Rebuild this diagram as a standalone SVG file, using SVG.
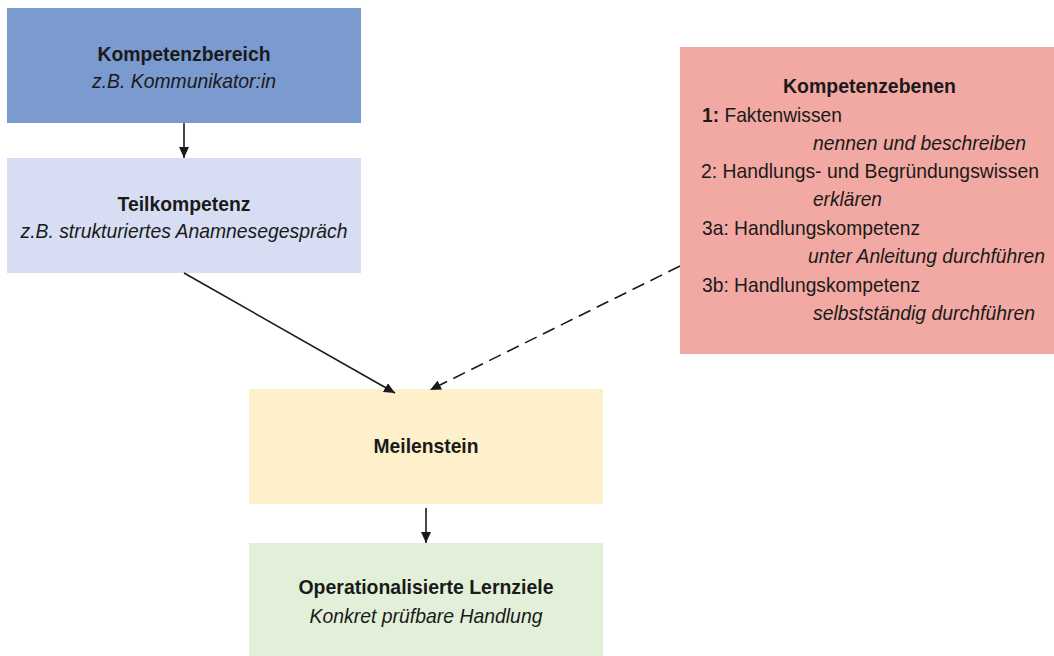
<svg xmlns="http://www.w3.org/2000/svg" width="1054" height="656" viewBox="0 0 1054 656">
<style>
text{font-family:"Liberation Sans",Arial,sans-serif;fill:#1a1a1a;font-size:21px}
.b{font-weight:bold}
.i{font-style:italic}
.c{text-anchor:middle}
.ln{stroke:#1a1a1a;stroke-width:1.6;fill:none}
</style>
<defs>
<marker id="ah" markerUnits="userSpaceOnUse" markerWidth="12" markerHeight="10" refX="11" refY="5" orient="auto">
<path d="M0,0 L11,5 L0,10 Z" fill="#1a1a1a"/>
</marker>
</defs>
<rect width="1054" height="656" fill="#ffffff"/>
<g id="kompetenzbereich">
<rect x="7" y="8" width="354" height="115" fill="#7b9bd0"/>
<text x="184" y="61" class="b c" textLength="173" lengthAdjust="spacingAndGlyphs">Kompetenzbereich</text>
<text x="184" y="88" class="i c" textLength="184" lengthAdjust="spacingAndGlyphs">z.B. Kommunikator:in</text>
</g>
<g id="teilkompetenz">
<rect x="7" y="158" width="354" height="115" fill="#d7ddf2"/>
<text x="184" y="211" class="b c" textLength="133" lengthAdjust="spacingAndGlyphs">Teilkompetenz</text>
<text x="184" y="238" class="i c" textLength="327" lengthAdjust="spacingAndGlyphs">z.B. strukturiertes Anamnesegespräch</text>
</g>
<g id="kompetenzebenen">
<rect x="680" y="47" width="374" height="307" fill="#f2a9a3"/>
<text x="869.5" y="93" class="b c" textLength="173" lengthAdjust="spacingAndGlyphs">Kompetenzebenen</text>
<text x="702" y="122" textLength="140" lengthAdjust="spacingAndGlyphs"><tspan class="b">1:</tspan> Faktenwissen</text>
<text x="813" y="150" class="i" textLength="213" lengthAdjust="spacingAndGlyphs">nennen und beschreiben</text>
<text x="701" y="178" textLength="338" lengthAdjust="spacingAndGlyphs">2: Handlungs- und Begründungswissen</text>
<text x="813" y="206" class="i" textLength="69" lengthAdjust="spacingAndGlyphs">erklären</text>
<text x="702" y="235" textLength="218" lengthAdjust="spacingAndGlyphs">3a: Handlungskompetenz</text>
<text x="808" y="263" class="i" textLength="237" lengthAdjust="spacingAndGlyphs">unter Anleitung durchführen</text>
<text x="702" y="292" textLength="218" lengthAdjust="spacingAndGlyphs">3b: Handlungskompetenz</text>
<text x="813" y="320" class="i" textLength="222" lengthAdjust="spacingAndGlyphs">selbstständig durchführen</text>
</g>
<g id="meilenstein">
<rect x="249" y="389" width="354" height="115" fill="#fdf0cb"/>
<text x="426" y="453" class="b c" textLength="105" lengthAdjust="spacingAndGlyphs">Meilenstein</text>
</g>
<g id="lernziele">
<rect x="249" y="543" width="354" height="113" fill="#e3f0d9"/>
<text x="426" y="594" class="b c" textLength="255" lengthAdjust="spacingAndGlyphs">Operationalisierte Lernziele</text>
<text x="426" y="623" class="i c" textLength="233" lengthAdjust="spacingAndGlyphs">Konkret prüfbare Handlung</text>
</g>
<g id="connectors">
<line class="ln" x1="184" y1="123" x2="184" y2="158" marker-end="url(#ah)"/>
<line class="ln" x1="184" y1="273" x2="395" y2="393" marker-end="url(#ah)"/>
<line class="ln" x1="680" y1="266" x2="430" y2="390" stroke-dasharray="13,7" marker-end="url(#ah)"/>
<line class="ln" x1="426" y1="508" x2="426" y2="543" marker-end="url(#ah)"/>
</g>
</svg>
